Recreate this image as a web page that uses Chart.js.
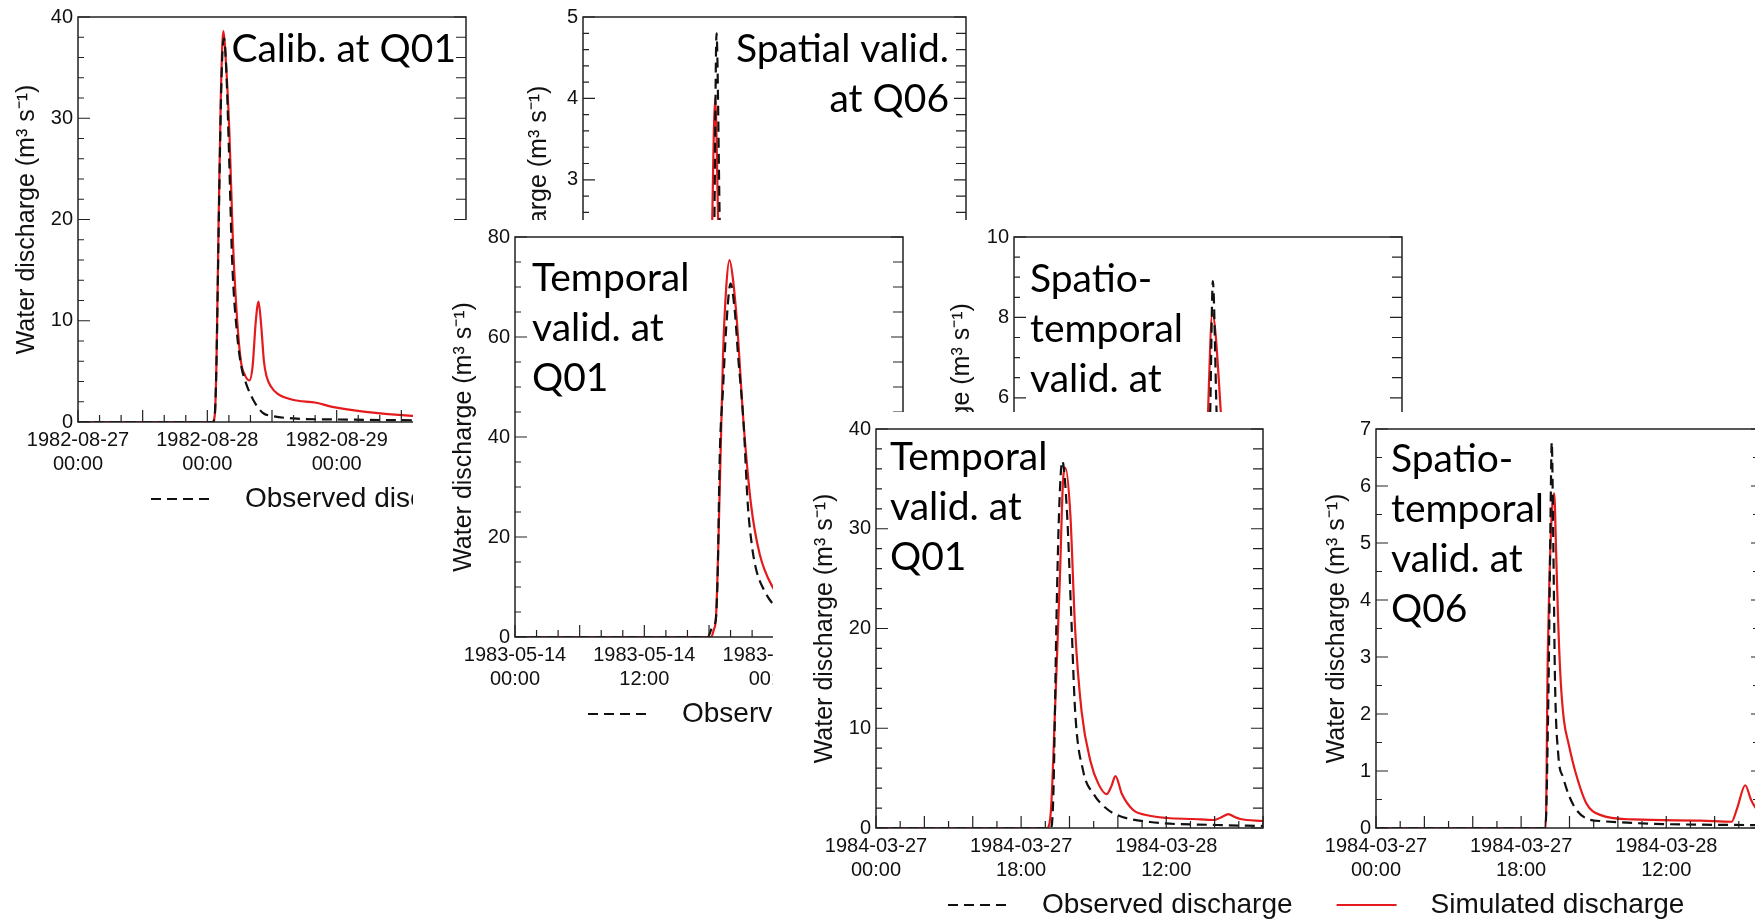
<!DOCTYPE html>
<html>
<head>
<meta charset="utf-8">
<title>Water discharge panels</title>
<script src="https://cdn.jsdelivr.net/npm/chart.js@4.4.1/dist/chart.umd.min.js"></script>
<style>
  html, body { margin: 0; padding: 0; background: #fff; overflow: hidden; }
  body { width: 1755px; height: 921px; position: relative; }
  .panel { position: absolute; overflow: hidden; background: #fff; }
  .panel canvas { position: absolute; left: 0; top: 0; }
</style>
</head>
<body>
<script>
// Hours since the first tick label of each event, and discharge in m3/s

// Calibration at Q01, event of 1982-08-27
const calibQ01Observed = [[0,0],[25,0],[25.4,0.8],[25.7,6],[26.1,19],[26.5,31],[26.8,36.5],[27.1,37.9],[27.5,35],[28.0,27],[28.6,16],[29.5,8.8],[30.3,5.5],[31.2,3.8],[32.5,2.2],[34.3,0.9],[36,0.6],[40,0.35],[48,0.25],[60,0.18],[72,0.15]]
const calibQ01Simulated = [[0,0],[25,0],[25.4,0.8],[25.7,6],[26.1,20],[26.5,32],[26.8,37.5],[27.0,38.6],[27.4,36],[28.1,28.5],[28.7,18.6],[29.3,12],[30.2,6.1],[31.0,4.6],[31.8,4.1],[32.4,5.5],[33.0,10],[33.5,11.9],[34.0,9.5],[34.5,6.0],[35.0,4.5],[35.8,3.5],[37,2.8],[39.8,2.2],[44.2,1.9],[47.2,1.5],[53.4,1.0],[62,0.6],[72,0.45]]

// Spatial validation at Q06, same event
const spatialQ06Observed = [[0,0],[24.2,0],[24.7,2.5],[25.1,4.8],[25.7,2.5],[26.3,0.6],[28,0.2],[40,0.1],[72,0.05]]
const spatialQ06Simulated = [[0,0],[23.8,0],[24.3,2.5],[24.85,4.0],[25.4,2.5],[26,0.7],[28,0.3],[40,0.15],[72,0.1]]

// Temporal validation at Q01, event of 1983-05-14
const temporal83Observed = [[0,0],[17.9,0],[18.2,1.5],[18.4,2.4],[18.6,3],[18.8,12],[19.0,36.4],[19.3,49.6],[19.6,62],[20.0,70.7],[20.4,65],[20.7,56.2],[21.2,43],[21.6,26.5],[22.0,18],[22.4,13.3],[23.2,9],[23.9,6.7],[25,4.5],[28,2.5],[36,1.2]]
const temporal83Simulated = [[0,0],[18.2,0],[18.45,1.5],[18.65,4],[19.0,29.8],[19.3,56.2],[19.6,70],[19.9,75.4],[20.2,72],[20.6,62.8],[21.2,43],[21.9,26.5],[22.7,16.6],[23.9,10],[25,7],[28,3.5],[36,1.5]]

// Spatio-temporal validation at Q06, event of 1983-05-14
const spatioTemp83Observed = [[0,0],[17.6,0],[18.2,5.6],[18.45,8.9],[18.8,5.6],[19.3,2],[20,0.8],[24,0.3],[36,0.15]]
const spatioTemp83Simulated = [[0,0],[17.4,0],[18.0,5.6],[18.4,8.1],[19.2,5.6],[19.8,2.5],[20.5,1.2],[24,0.5],[36,0.25]]

// Temporal validation at Q01, event of 1984-03-27
const temporal84Observed = [[0,0],[21.7,0],[22.0,3.4],[22.4,21.6],[22.7,31.5],[23.1,36.8],[23.7,31.5],[24.2,21.6],[24.7,11.7],[25.7,5.7],[27.0,3.4],[28.5,2],[29.9,1.3],[34.0,0.6],[42.3,0.3],[48,0.2]]
const temporal84Simulated = [[0,0],[21.2,0],[21.7,1.8],[22.2,11.7],[22.8,24.9],[23.2,34.8],[23.5,36.1],[24.1,31.5],[24.7,19.9],[25.5,11.7],[26.6,6.7],[27.6,4.4],[28.6,3.4],[29.2,4.2],[29.7,5.2],[30.5,3.4],[31.9,1.8],[33.5,1.3],[36.1,1.0],[39.4,0.9],[41.9,0.8],[42.9,1.1],[43.7,1.4],[44.5,1.1],[45.2,0.9],[48,0.7]]

// Spatio-temporal validation at Q06, event of 1984-03-27
const spatioTemp84Observed = [[0,0],[21.0,0],[21.4,2.5],[21.65,5.5],[21.8,6.77],[22.0,4.9],[22.2,2.6],[22.6,1.3],[23.2,0.89],[24.9,0.31],[28,0.12],[48,0.05]]
const spatioTemp84Simulated = [[0,0],[21.05,0],[21.3,3.0],[21.5,4.3],[21.8,5.5],[22.1,5.87],[22.35,4.8],[22.6,3.6],[22.9,2.6],[23.3,1.9],[23.9,1.47],[24.7,1.0],[26.1,0.43],[27.8,0.23],[31.9,0.15],[40.2,0.13],[44.1,0.11],[44.8,0.35],[45.8,0.75],[46.5,0.5],[47.0,0.37],[48,0.2]]

// x tick positions (hours) and their labels
const ticks1982 = [0, 24, 48]
const labels1982 = [['1982-08-27', '00:00'], ['1982-08-28', '00:00'], ['1982-08-29', '00:00']]
const ticks1983 = [0, 12, 24]
const labels1983 = [['1983-05-14', '00:00'], ['1983-05-14', '12:00'], ['1983-05-15', '00:00']]
const ticks1984 = [0, 18, 36]
const labels1984 = [['1984-03-27', '00:00'], ['1984-03-27', '18:00'], ['1984-03-28', '12:00']]

// y tick labels
const yTicks40 = [0, 10, 20, 30, 40]
const yTicks5 = [0, 1, 2, 3, 4, 5]
const yTicks80 = [0, 20, 40, 60, 80]
const yTicks10 = [0, 2, 4, 6, 8, 10]
const yTicks7 = [0, 1, 2, 3, 4, 5, 6, 7]

const seriesNames = ['Observed discharge', 'Simulated discharge']
const yTitle = 'Water discharge (m³ s⁻¹)'

const AXIS_FONT = '"Liberation Sans", Arial, sans-serif'
const NOTE_FONT = '39px Lato, "Open Sans", sans-serif'

// box with inward ticks on left, right and bottom
const frameTicks = {
  id: 'frameTicks',
  afterDatasetsDraw(chart, args, o) {
    const { ctx, chartArea: a, scales: { x, y } } = chart
    ctx.save()
    ctx.strokeStyle = '#222'
    ctx.lineWidth = 1.5
    ctx.strokeRect(a.left, a.top, a.right - a.left, a.bottom - a.top)
    ctx.lineWidth = 1.2
    ctx.beginPath()
    const ny = Math.round(y.max / o.yMinor)
    for (let i = 0; i <= ny; i++) {
      const v = i * o.yMinor
      const py = y.getPixelForValue(v)
      const major = Math.abs(v / o.yMajor - Math.round(v / o.yMajor)) < 1e-6
      ctx.moveTo(a.left, py)
      ctx.lineTo(a.left + (major ? 12 : 6), py)
      ctx.moveTo(a.right, py)
      ctx.lineTo(a.right - (major ? 12 : 10), py)
    }
    const nx = Math.round(x.max / o.xMinor)
    for (let i = 0; i <= nx; i++) {
      const v = i * o.xMinor
      const px = x.getPixelForValue(v)
      const major = Math.abs(v / o.xMajor - Math.round(v / o.xMajor)) < 1e-6
      ctx.moveTo(px, a.bottom)
      ctx.lineTo(px, a.bottom - (major ? 12 : 7))
    }
    ctx.stroke()
    ctx.restore()
  },
}

// the text box written over each panel
const noteText = {
  id: 'noteText',
  afterDraw(chart, args, o) {
    const { ctx, chartArea: a } = chart
    ctx.save()
    ctx.font = NOTE_FONT
    ctx.fillStyle = '#000'
    ctx.textAlign = o.align
    ctx.textBaseline = 'alphabetic'
    o.lines.forEach((t, i) => ctx.fillText(t, a.left + o.x, a.top + o.y + i * 50))
    ctx.restore()
  },
}

// legend line below the plot, starting at a fixed offset from the plot's left edge
const lineLegend = {
  id: 'lineLegend',
  afterDraw(chart, args, o) {
    const { ctx, chartArea: a } = chart
    const y = a.bottom + 77
    let x = a.left + o.start
    ctx.save()
    ctx.font = '28px ' + AXIS_FONT
    ctx.textBaseline = 'middle'
    chart.data.datasets.forEach((ds) => {
      ctx.strokeStyle = ds.borderColor
      ctx.lineWidth = ds.borderWidth
      ctx.setLineDash(ds.borderDash || [])
      ctx.beginPath()
      ctx.moveTo(x, y)
      ctx.lineTo(x + 60, y)
      ctx.stroke()
      ctx.setLineDash([])
      ctx.fillStyle = '#111'
      ctx.fillText(ds.label, x + 94, y)
      x += 94 + ctx.measureText(ds.label).width + 50
    })
    ctx.restore()
  },
}

// clip: visible part of the panel on the page; size: canvas size; plot: chart area on the page
const panels = [
  {
    clip: [0, 0, 475, 530], size: [475, 530], plot: [78, 17, 466, 422],
    obs: calibQ01Observed, sim: calibQ01Simulated,
    xMax: 72, xTicks: ticks1982, xLabels: labels1982, xMinor: 4, xMajor: 12,
    yMax: 40, yTicks: yTicks40, yMinor: 2, yMajor: 10, titleGap: 51,
    note: { lines: ['Calib. at Q01'], x: 378, y: 45, align: 'right' }, legendStart: 73,
  },
  {
    clip: [478, 0, 500, 220], size: [500, 530], plot: [583, 17, 966, 424],
    obs: spatialQ06Observed, sim: spatialQ06Simulated,
    xMax: 72, xTicks: ticks1982, xLabels: labels1982, xMinor: 4, xMajor: 12,
    yMax: 5, yTicks: yTicks5, yMinor: 0.2, yMajor: 1, titleGap: 44,
    note: { lines: ['Spatial valid.', 'at Q06'], x: 366, y: 45, align: 'right' }, legendStart: 73,
  },
  {
    clip: [413, 220, 500, 520], size: [500, 520], plot: [515, 233, 903, 637],
    obs: temporal83Observed, sim: temporal83Simulated,
    xMax: 36, xTicks: ticks1983, xLabels: labels1983, xMinor: 2, xMajor: 6,
    yMax: 80, yTicks: yTicks80, yMinor: 5, yMajor: 20, titleGap: 51,
    note: { lines: ['Temporal', 'valid. at', 'Q01'], x: 17, y: 54, align: 'left' }, legendStart: 73,
  },
  {
    clip: [910, 220, 500, 192], size: [500, 520], plot: [1014, 233, 1402, 639],
    obs: spatioTemp83Observed, sim: spatioTemp83Simulated,
    xMax: 36, xTicks: ticks1983, xLabels: labels1983, xMinor: 2, xMajor: 6,
    yMax: 10, yTicks: yTicks10, yMinor: 0.5, yMajor: 2, titleGap: 52,
    note: { lines: ['Spatio-', 'temporal', 'valid. at', 'Q06'], x: 16, y: 55, align: 'left' }, legendStart: 73,
  },
  {
    clip: [773, 412, 527, 509], size: [527, 509], plot: [876, 424, 1263, 828],
    obs: temporal84Observed, sim: temporal84Simulated,
    xMax: 48, xTicks: ticks1984, xLabels: labels1984, xMinor: 3, xMajor: 6,
    yMax: 40, yTicks: yTicks40, yMinor: 2, yMajor: 10, titleGap: 51,
    note: { lines: ['Temporal', 'valid. at', 'Q01'], x: 14, y: 41, align: 'left' }, legendStart: 72,
  },
  {
    clip: [1300, 412, 470, 509], size: [470, 509], plot: [1376, 424, 1763, 828],
    obs: spatioTemp84Observed, sim: spatioTemp84Simulated,
    xMax: 48, xTicks: ticks1984, xLabels: labels1984, xMinor: 3, xMajor: 6,
    yMax: 7, yTicks: yTicks7, yMinor: 0.5, yMajor: 1, titleGap: 39,
    note: { lines: ['Spatio-', 'temporal', 'valid. at', 'Q06'], x: 15, y: 43, align: 'left' }, legendStart: -434,
  },
]

function makePanel(p) {
  const wrap = document.createElement('div')
  wrap.className = 'panel'
  wrap.style.left = p.clip[0] + 'px'
  wrap.style.top = p.clip[1] + 'px'
  wrap.style.width = p.clip[2] + 'px'
  wrap.style.height = p.clip[3] + 'px'
  const canvas = document.createElement('canvas')
  canvas.width = p.size[0]
  canvas.height = p.size[1]
  wrap.appendChild(canvas)
  document.body.appendChild(wrap)

  const plotL = p.plot[0] - p.clip[0]
  const plotT = p.plot[1] - p.clip[1]
  const plotR = p.plot[2] - p.clip[0]
  const plotB = p.plot[3] - p.clip[1]
  const titleSize = 25

  new Chart(canvas, {
    type: 'line',
    data: {
      datasets: [
        {
          label: seriesNames[0],
          data: p.obs.map(([x, y]) => ({ x, y })),
          borderColor: '#111',
          borderWidth: 2.2,
          borderDash: [10, 6],
          pointRadius: 0,
          cubicInterpolationMode: 'monotone',
          fill: false,
        },
        {
          label: seriesNames[1],
          data: p.sim.map(([x, y]) => ({ x, y })),
          borderColor: '#e41a1c',
          borderWidth: 2.2,
          pointRadius: 0,
          cubicInterpolationMode: 'monotone',
          fill: false,
        },
      ],
    },
    options: {
      responsive: false,
      animation: false,
      events: [],
      layout: { padding: { left: 0, top: plotT, right: p.size[0] - plotR, bottom: 0 } },
      plugins: {
        legend: { display: false },
        tooltip: { enabled: false },
        frameTicks: { xMinor: p.xMinor, xMajor: p.xMajor, yMinor: p.yMinor, yMajor: p.yMajor },
        noteText: p.note,
        lineLegend: { start: p.legendStart },
      },
      scales: {
        x: {
          type: 'linear',
          min: 0,
          max: p.xMax,
          grid: { display: false, drawTicks: false },
          border: { display: false },
          afterBuildTicks: (s) => { s.ticks = p.xTicks.map((v) => ({ value: v })) },
          afterFit: (s) => { s.height = p.size[1] - plotB },
          ticks: {
            autoSkip: false,
            maxRotation: 0,
            padding: 6,
            color: '#111',
            font: { family: AXIS_FONT, size: 20 },
            callback: (v, i) => p.xLabels[i],
          },
        },
        y: {
          min: 0,
          max: p.yMax,
          grid: { display: false, drawTicks: false },
          border: { display: false },
          afterBuildTicks: (s) => { s.ticks = p.yTicks.map((v) => ({ value: v })) },
          afterFit: (s) => { s.width = plotL },
          ticks: { padding: 5, color: '#111', font: { family: AXIS_FONT, size: 20 } },
          title: {
            display: true,
            text: yTitle,
            color: '#111',
            font: { family: AXIS_FONT, size: titleSize },
            padding: { top: plotL - p.titleGap - titleSize * 0.6, bottom: 0 },
          },
        },
      },
    },
    plugins: [frameTicks, noteText, lineLegend],
  })
}

panels.forEach(makePanel)
</script>
</body>
</html>
